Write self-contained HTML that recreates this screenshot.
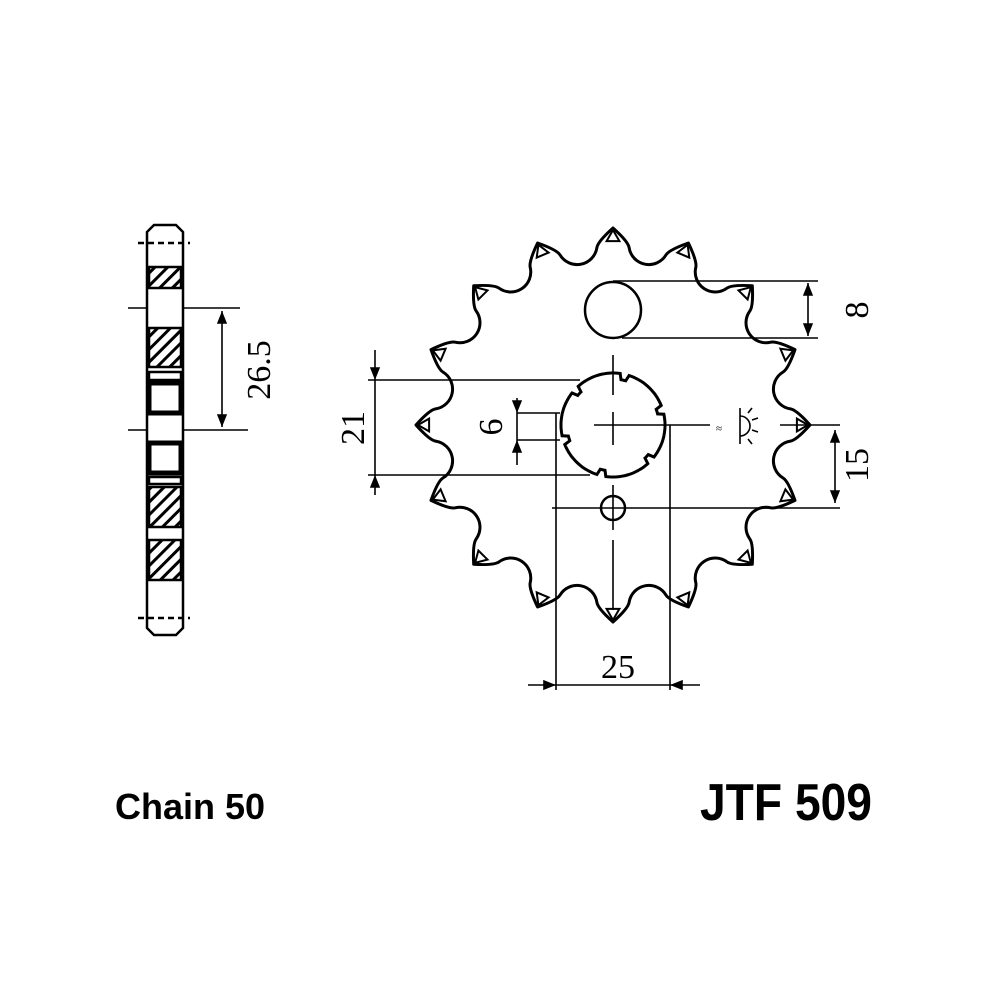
<!DOCTYPE html>
<html><head><meta charset="utf-8"><style>html,body{margin:0;padding:0;background:#fff}svg{display:block}</style></head>
<body>
<svg id="s" width="1000" height="1000" viewBox="0 0 1000 1000" xmlns="http://www.w3.org/2000/svg" font-family="Liberation Serif, serif">
<defs>
<marker id="a" viewBox="0 0 10 10" refX="10" refY="5" markerWidth="8" markerHeight="8" orient="auto-start-reverse"><path d="M0,1 L10,5 L0,9 Z" fill="#000"/></marker>
<pattern id="h" patternUnits="userSpaceOnUse" width="9" height="9" patternTransform="rotate(45)"><rect width="9" height="9" fill="#fff"/><rect width="3" height="9" fill="#000"/></pattern>
</defs>
<rect width="1000" height="1000" fill="#fff"/>
<g id="gear" fill="none" stroke="#000" stroke-width="3"></g>
<g stroke="#000" stroke-width="2.5" fill="#fff">
<circle cx="613" cy="310" r="28"/>
<circle cx="613" cy="508" r="12"/>
</g>
<g stroke="#000" stroke-width="1.6" fill="none">
<line x1="613" y1="355" x2="613" y2="395" /><line x1="594" y1="425" x2="632" y2="425"/><line x1="613" y1="412" x2="613" y2="445"/>
<line x1="613" y1="485" x2="613" y2="530"/><line x1="613" y1="540" x2="613" y2="610"/>
<line x1="632" y1="425" x2="710" y2="425"/><line x1="780" y1="425" x2="840" y2="425"/>
<line x1="613" y1="281" x2="818" y2="281"/><line x1="622" y1="338" x2="818" y2="338"/>
<line x1="808" y1="283" x2="808" y2="336" marker-start="url(#a)" marker-end="url(#a)"/>
<line x1="368" y1="380" x2="580" y2="380"/><line x1="368" y1="475" x2="590" y2="475"/>
<line x1="375" y1="350" x2="375" y2="380" marker-end="url(#a)"/><line x1="375" y1="380" x2="375" y2="475"/><line x1="375" y1="495" x2="375" y2="475" marker-end="url(#a)"/>
<line x1="517" y1="413" x2="560" y2="413"/><line x1="517" y1="440" x2="560" y2="440"/>
<line x1="517" y1="398" x2="517" y2="413" marker-end="url(#a)"/><line x1="517" y1="413" x2="517" y2="440"/><line x1="517" y1="465" x2="517" y2="440" marker-end="url(#a)"/>
<line x1="552" y1="508" x2="840" y2="508"/>
<line x1="835" y1="430" x2="835" y2="503" marker-start="url(#a)" marker-end="url(#a)"/>
<line x1="556" y1="413" x2="556" y2="690"/><line x1="670" y1="425" x2="670" y2="690"/>
<line x1="528" y1="685" x2="556" y2="685" marker-end="url(#a)"/><line x1="556" y1="685" x2="670" y2="685"/><line x1="700" y1="685" x2="670" y2="685" marker-end="url(#a)"/>
<line x1="740" y1="408" x2="740" y2="444"/><path d="M740,416 A10,10 0 0 1 740,436"/>
<line x1="752" y1="420" x2="758" y2="418"/><line x1="752" y1="430" x2="758" y2="432"/><line x1="748" y1="413" x2="752" y2="408"/><line x1="748" y1="439" x2="752" y2="444"/>
<line x1="128" y1="308" x2="240" y2="308"/><line x1="128" y1="430" x2="248" y2="430"/>
<line x1="222" y1="311" x2="222" y2="427" marker-start="url(#a)" marker-end="url(#a)"/>
</g>
<g stroke="#000" stroke-width="2.5" fill="none">
<path d="M147,240 L147,232 L154,225 L176,225 L183,232 L183,240 L183,625 L183,628 L176,635 L154,635 L147,628 Z" fill="#fff"/>
<line x1="138" y1="243" x2="190" y2="243" stroke-dasharray="6,4"/>
<line x1="138" y1="618" x2="190" y2="618" stroke-dasharray="6,4"/>
<rect x="149" y="267" width="32" height="21" fill="url(#h)"/>
<rect x="149" y="328" width="32" height="39" fill="url(#h)"/>
<rect x="149" y="372" width="32" height="8"/>
<rect x="149" y="383" width="32" height="30" fill="#fff" stroke-width="5"/>
<rect x="149" y="443" width="32" height="30" fill="#fff" stroke-width="5"/>
<rect x="149" y="477" width="32" height="7"/>
<rect x="149" y="487" width="32" height="40" fill="url(#h)"/>
<rect x="149" y="540" width="32" height="40" fill="url(#h)"/>
</g>
<g font-size="34" fill="#000">
<text transform="translate(856,310) rotate(-90)" text-anchor="middle" dy="0.35em">8</text>
<text transform="translate(352,428) rotate(-90)" text-anchor="middle" dy="0.35em">21</text>
<text transform="translate(490,427) rotate(-90)" text-anchor="middle" dy="0.35em">6</text>
<text transform="translate(856,465) rotate(-90)" text-anchor="middle" dy="0.35em">15</text>
<text transform="translate(258,370) rotate(-90)" text-anchor="middle" dy="0.35em">26.5</text>
<text x="618" y="678" text-anchor="middle">25</text>
<text x="716" y="432" font-size="11">≈</text>
</g>
<g font-family="Liberation Sans, sans-serif" font-weight="bold" fill="#000">
<text x="115" y="819" font-size="36">Chain 50</text>
<text x="700" y="820" font-size="52" textLength="172" lengthAdjust="spacingAndGlyphs">JTF 509</text>
</g>
</svg>
<script>
(function(){
var cx=613,cy=425,Rt=197,N=16;
var Rs=184, rs=20, TH=70*Math.PI/180, K=6;
function XY(r,a){return [cx+r*Math.cos(a),cy+r*Math.sin(a)];}
function f(p){return p[0].toFixed(1)+','+p[1].toFixed(1);}
var d='';
for(var k=0;k<N;k++){
 var at=-Math.PI/2+k*2*Math.PI/N;
 var av=at+Math.PI/N;
 var t=XY(Rt,at), t2=XY(Rt,at+2*Math.PI/N);
 if(k==0) d+='M'+f(t);
 var c=XY(Rs,av);
 var ux=Math.cos(av),uy=Math.sin(av), tx=-uy,ty=ux;
 function pt(th){return [c[0]+rs*(-ux*Math.cos(th)+tx*Math.sin(th)), c[1]+rs*(-uy*Math.cos(th)+ty*Math.sin(th))];}
 var s=pt(-TH), e=pt(TH);
 var ts=[ux*Math.sin(TH)-tx*Math.cos(TH), uy*Math.sin(TH)-ty*Math.cos(TH)];
 var te=[ux*Math.sin(TH)+tx*Math.cos(TH), uy*Math.sin(TH)+ty*Math.cos(TH)];
 var cs=[s[0]+K*ts[0], s[1]+K*ts[1]], ce=[e[0]+K*te[0], e[1]+K*te[1]];
 d+=' Q'+f(cs)+' '+f(s)+' A'+rs+','+rs+' 0 0 0 '+f(e)+' Q'+f(ce)+' '+f(t2);
}
d+='Z';
var g=document.getElementById('gear');
var NS='http://www.w3.org/2000/svg';
var pg=document.createElementNS(NS,'path');pg.setAttribute('d',d);pg.setAttribute('fill','#fff');pg.setAttribute('stroke-linejoin','round');g.appendChild(pg);
for(var k=0;k<N;k++){
 var a=-Math.PI/2+k*2*Math.PI/N;
 var tr=document.createElementNS(NS,'path');
 function P(r,o){return (cx+r*Math.cos(a+o)).toFixed(1)+','+(cy+r*Math.sin(a+o)).toFixed(1);}
 tr.setAttribute('d','M'+P(195,0)+' L'+P(184,0.035)+' L'+P(184,-0.035)+' Z');
 tr.setAttribute('stroke-width','2');g.appendChild(tr);
}
var hp=[];
for(var j=0;j<=360;j+=2){
 var an=j*Math.PI/180, r=52;
 var m=((j+20)%60); if(m<8) r=46;
 hp.push((cx+r*Math.cos(an)).toFixed(1)+','+(cy+r*Math.sin(an)).toFixed(1));
}
var h=document.createElementNS(NS,'polygon');h.setAttribute('points',hp.join(' '));h.setAttribute('fill','#fff');g.appendChild(h);
})();
</script>
</body></html>
